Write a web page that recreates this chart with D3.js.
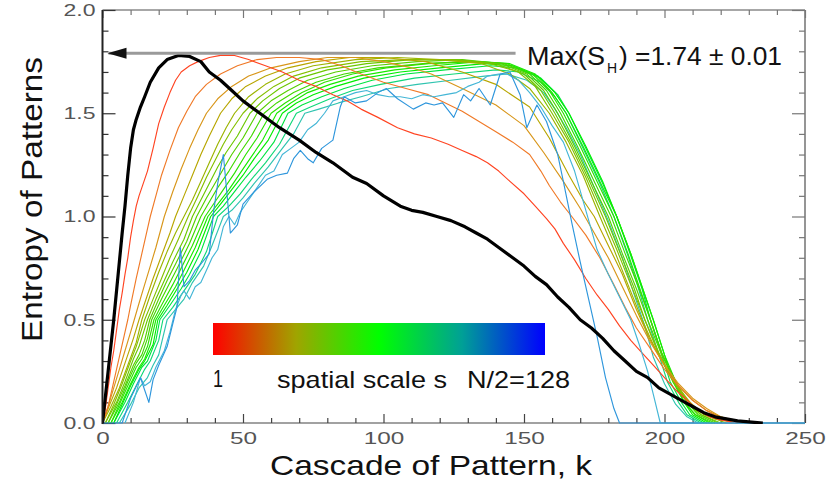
<!DOCTYPE html>
<html><head><meta charset="utf-8">
<script src="https://cdn.jsdelivr.net/npm/d3@7"></script>
<style>
body{margin:0;background:#fff}
svg{display:block}
text{font-family:"Liberation Sans",Arial,Helvetica,sans-serif}
</style>
</head><body>
<svg id="chart" width="830" height="486"></svg>
<script>
// ---------- tick values / labels ----------
const xMajorTicks = [0, 50, 100, 150, 200, 250];
const xMinorTicks = [10,20,30,40,60,70,80,90,110,120,130,140,160,170,180,190,210,220,230,240];
const yMajorTicks = [0, 0.5, 1.0, 1.5, 2.0];
const yMinorTicks = [0.1,0.2,0.3,0.4,0.6,0.7,0.8,0.9,1.1,1.2,1.3,1.4,1.6,1.7,1.8,1.9];
const xTitle = "Cascade of Pattern, k";
const yTitle = "Entropy of Patterns";
const maxValue = 1.79; // level of the grey arrow
const maxText = ") =1.74 \u00b1 0.01";
const scaleLabels = ["1", "spatial scale s", "N/2=128"];

// ---------- series: [k, S] ----------
const sBlack = [[0,0],[2,0.25],[4,0.5],[6,0.78],[7,0.92],[8,1.05],[9,1.2],[10,1.33],[11,1.42],[12,1.47],[13.5,1.53],[15,1.58],[17,1.65],[20,1.72],[23,1.76],[27,1.78],[31,1.775],[35,1.75],[38,1.70],[42,1.66],[46,1.61],[50,1.56],[56,1.50],[63,1.43],[70,1.37],[76,1.31],[82,1.26],[89,1.19],[94,1.16],[100,1.10],[106,1.05],[110,1.03],[114,1.02],[119,1.00],[124,0.98],[129,0.95],[133,0.92],[137,0.89],[141,0.85],[146,0.80],[150,0.76],[154,0.71],[158,0.67],[162,0.61],[166,0.56],[170,0.50],[174,0.46],[178,0.41],[182,0.35],[186,0.30],[190,0.25],[194,0.22],[198,0.17],[202,0.14],[206,0.11],[210,0.08],[214,0.05],[218,0.03],[222,0.02],[226,0.01],[232,0.003],[235,0]];
const s1 = [[0,0],[1,0.07],[2,0.17],[3,0.27],[4,0.35],[5,0.45],[6,0.55],[7,0.63],[8,0.72],[9,0.8],[10,0.9],[11,0.98],[12,1.05],[13,1.1],[14,1.14],[16,1.22],[18,1.33],[20,1.45],[22,1.53],[24,1.6],[26,1.66],[28,1.7],[31,1.73],[34,1.75],[38,1.77],[42,1.78],[47,1.78],[52,1.76],[58,1.73],[64,1.70],[70,1.66],[76,1.63],[82,1.59],[87,1.56],[92,1.52],[98,1.48],[105,1.43],[111,1.40],[117,1.38],[123,1.35],[128,1.32],[133,1.29],[137,1.26],[141,1.22],[145,1.17],[150,1.11],[154,1.05],[158,0.99],[161,0.94],[164,0.87],[168,0.79],[172,0.70],[176,0.62],[180,0.55],[184,0.47],[188,0.40],[192,0.34],[196,0.28],[200,0.22],[204,0.16],[208,0.11],[212,0.06],[216,0.03],[220,0.015],[226,0]];
const s2 = [[0,0],[2,0.08],[4,0.2],[6,0.32],[8,0.44],[9,0.5],[10,0.57],[12,0.7],[14,0.82],[16,0.94],[17,1.0],[19,1.1],[21,1.2],[24,1.32],[27,1.43],[30,1.51],[33,1.58],[37,1.64],[42,1.69],[48,1.73],[55,1.76],[62,1.77],[70,1.77],[78,1.76],[85,1.73],[92,1.69],[100,1.65],[108,1.62],[116,1.59],[122,1.55],[128,1.51],[134,1.46],[140,1.41],[146,1.36],[152,1.30],[156,1.22],[159,1.15],[163,1.07],[167,1.0],[172,0.91],[177,0.80],[182,0.67],[186,0.56],[190,0.46],[195,0.36],[200,0.26],[205,0.18],[210,0.11],[215,0.06],[219,0.03],[224,0]];
const s3 = [[0,0],[2,0.08],[4,0.17],[6,0.26],[8,0.35],[10,0.44],[11.3,0.5],[13,0.58],[15,0.67],[17,0.76],[19,0.85],[22,1.0],[25,1.12],[28,1.23],[31,1.33],[34,1.42],[37,1.5],[41,1.57],[46,1.63],[52,1.68],[60,1.72],[70,1.75],[80,1.77],[90,1.77],[100,1.75],[110,1.72],[117,1.69],[128,1.62],[140,1.54],[150,1.44],[157,1.31],[164,1.17],[170,1.04],[175,0.92],[180,0.80],[185,0.66],[190,0.52],[195,0.39],[200,0.28],[205,0.19],[210,0.12],[215,0.07],[220,0.03],[228,0]];
const s4 = [[0,0],[2,0.07],[5,0.17],[8,0.29],[11,0.41],[13,0.5],[15,0.58],[18,0.7],[21,0.81],[24,0.92],[26,1.0],[29,1.1],[32,1.2],[35,1.3],[38,1.39],[42,1.5],[46,1.57],[51,1.63],[58,1.68],[66,1.72],[76,1.75],[88,1.77],[100,1.77],[115,1.75],[128,1.70],[140,1.64],[152,1.53],[159,1.38],[166,1.20],[171,1.08],[175,1.0],[180,0.86],[185,0.72],[190,0.55],[195,0.40],[200,0.28],[205,0.18],[210,0.11],[215,0.06],[220,0.03],[228,0]];
const s5 = [[0,0],[3,0.08],[6,0.17],[9,0.28],[12,0.39],[14,0.5],[17,0.62],[20,0.73],[23,0.83],[26,0.92],[29,1.0],[32,1.08],[35,1.17],[38,1.26],[41,1.35],[44,1.43],[47,1.5],[52,1.58],[58,1.64],[65,1.69],[75,1.73],[90,1.76],[105,1.77],[120,1.76],[135,1.74],[145,1.69],[152,1.62],[159,1.50],[165,1.36],[171,1.20],[177,1.0],[182,0.84],[187,0.67],[192,0.50],[197,0.35],[202,0.23],[207,0.13],[212,0.06],[218,0.02],[226,0]];
const s6 = [[1,0],[4,0.09],[7,0.19],[10,0.3],[12,0.37],[15,0.5],[18,0.6],[21,0.7],[24,0.8],[27,0.89],[30.5,1.0],[34,1.1],[37,1.19],[40,1.27],[43,1.35],[46,1.42],[50,1.5],[55,1.57],[61,1.63],[68,1.68],[78,1.72],[92,1.75],[108,1.76],[124,1.76],[138,1.74],[148,1.70],[154,1.63],[160,1.5],[166,1.36],[172,1.19],[178,1.0],[183,0.84],[188,0.67],[193,0.5],[198,0.34],[203,0.21],[209,0.1],[214,0.04],[222,0]];
const s7 = [[1,0],[5,0.1],[8,0.2],[11,0.31],[13,0.37],[16,0.5],[19,0.6],[22,0.69],[25,0.78],[29,0.89],[32,1.0],[35,1.08],[38,1.16],[41,1.24],[44,1.31],[48,1.39],[52.5,1.5],[57,1.56],[63,1.62],[70,1.67],[80,1.71],[94,1.74],[110,1.76],[126,1.76],[140,1.74],[150,1.69],[156,1.61],[161,1.5],[167,1.35],[173,1.18],[179,1.0],[184,0.83],[189,0.66],[193,0.5],[198,0.33],[203,0.2],[208,0.1],[213,0.04],[220,0]];
const s8 = [[2,0],[5,0.09],[8,0.18],[11,0.28],[13,0.33],[15,0.4],[16.8,0.5],[20,0.6],[23,0.69],[26,0.77],[30,0.88],[33.5,1.0],[37,1.09],[40,1.16],[43,1.23],[46,1.3],[50,1.38],[55,1.5],[60,1.56],[66,1.61],[73,1.66],[83,1.7],[96,1.73],[112,1.75],[128,1.76],[142,1.74],[151,1.69],[157,1.61],[162,1.5],[168,1.34],[174,1.17],[180,1.0],[185,0.82],[190,0.65],[194,0.5],[199,0.33],[204,0.2],[208,0.1],[213,0.04],[219,0]];
const s9 = [[2,0],[6,0.1],[9,0.2],[12,0.29],[14,0.33],[16,0.41],[17.5,0.5],[21,0.6],[24,0.68],[27,0.76],[31,0.87],[35,1.0],[38,1.07],[41,1.14],[45,1.22],[49,1.31],[53,1.39],[57.5,1.5],[62,1.55],[68,1.6],[76,1.65],[86,1.69],[98,1.72],[114,1.74],[130,1.75],[143,1.74],[152,1.69],[158,1.61],[163,1.5],[169,1.34],[175,1.17],[181,1.0],[186,0.82],[191,0.65],[195,0.5],[199,0.34],[204,0.2],[208,0.1],[212,0.04],[218,0]];
const s10 = [[3,0],[6,0.09],[9,0.18],[12,0.27],[14,0.31],[16,0.37],[18.3,0.5],[21,0.57],[25,0.67],[28,0.75],[32,0.86],[36.5,1.0],[40,1.07],[43,1.13],[47,1.21],[51,1.3],[55,1.38],[60,1.5],[65,1.55],[71,1.6],[79,1.65],[89,1.69],[101,1.72],[116,1.74],[132,1.75],[144,1.74],[153,1.69],[159,1.61],[164,1.5],[170,1.34],[176,1.17],[182,1.0],[187,0.82],[191,0.66],[195,0.5],[199,0.34],[203,0.21],[207,0.1],[211,0.04],[217,0]];
const s11 = [[3,0],[7,0.1],[10,0.19],[13,0.27],[15,0.31],[17,0.38],[19,0.5],[22,0.57],[26,0.66],[29,0.74],[33,0.85],[37.5,1.0],[41,1.06],[45,1.13],[49,1.21],[53,1.29],[57,1.37],[62,1.5],[67,1.55],[73,1.6],[81,1.64],[91,1.68],[104,1.71],[118,1.73],[134,1.75],[145,1.74],[154,1.69],[160,1.6],[165,1.5],[171,1.34],[177,1.17],[183,1.0],[188,0.82],[192,0.66],[196,0.5],[200,0.33],[204,0.2],[207,0.1],[211,0.04],[216,0]];
const s12 = [[4,0],[7,0.09],[10,0.18],[13,0.26],[15,0.3],[18,0.38],[19.7,0.5],[23,0.57],[27,0.66],[30,0.73],[34,0.84],[38.5,1.0],[42,1.06],[46,1.13],[50,1.2],[54,1.28],[59,1.37],[64,1.5],[69,1.55],[75,1.59],[83,1.63],[93,1.67],[106,1.7],[120,1.72],[136,1.74],[146,1.73],[155,1.68],[161,1.6],[166,1.5],[172,1.34],[178,1.17],[183,1.0],[188,0.82],[192,0.66],[196,0.5],[200,0.33],[203,0.2],[207,0.1],[210,0.04],[215,0]];
const s13 = [[4,0],[8,0.1],[11,0.19],[14,0.27],[16,0.3],[19,0.4],[20.4,0.5],[24,0.57],[28,0.65],[31,0.72],[35,0.83],[39.5,1.0],[43,1.05],[47,1.12],[51,1.19],[56,1.27],[61,1.36],[66,1.5],[71,1.54],[78,1.58],[86,1.62],[96,1.66],[108,1.69],[122,1.71],[138,1.73],[147,1.72],[156,1.67],[162,1.59],[166,1.5],[172,1.33],[178,1.16],[183,1.0],[188,0.81],[192,0.65],[195,0.5],[199,0.33],[202,0.2],[206,0.1],[209,0.04],[214,0]];
const s14 = [[5,0],[9,0.1],[12,0.18],[15,0.26],[17,0.3],[20,0.4],[21.5,0.5],[25,0.56],[29,0.64],[33,0.72],[37,0.83],[41,1.0],[45,1.05],[49,1.11],[53,1.18],[58,1.26],[63,1.35],[69,1.5],[74,1.53],[81,1.57],[89,1.61],[99,1.64],[111,1.67],[125,1.69],[140,1.71],[148,1.7],[156,1.65],[161,1.58],[165,1.5],[171,1.33],[177,1.16],[182,1.0],[187,0.81],[191,0.64],[194,0.5],[198,0.33],[201,0.2],[205,0.1],[208,0.04],[213,0]];
const s15 = [[6,0],[10,0.09],[13,0.17],[16,0.22],[18,0.28],[20,0.33],[23,0.5],[26,0.55],[29,0.6],[32,0.68],[36,0.76],[39,0.86],[43,1.0],[46,1.03],[50,1.09],[54,1.16],[59,1.24],[64,1.33],[68,1.4],[72,1.5],[77,1.52],[84,1.55],[92,1.58],[102,1.62],[112,1.64],[124,1.66],[136,1.68],[144,1.69],[151,1.66],[157,1.6],[161,1.52],[165,1.43],[170,1.3],[175,1.14],[180,0.98],[185,0.8],[189,0.63],[193,0.47],[196,0.32],[200,0.19],[204,0.09],[208,0.03],[212,0]];
const s16 = [[8,0],[11,0.1],[13.5,0.22],[15,0.18],[17,0.2],[19,0.27],[22,0.35],[24,0.44],[26,0.55],[28,0.62],[29,0.64],[31,0.6],[33,0.66],[35,0.68],[37,0.74],[39,0.8],[41,0.84],[43,0.95],[45,1.0],[47,0.96],[49,1.02],[52,1.08],[55,1.14],[58,1.2],[61,1.22],[64,1.3],[67,1.33],[70,1.36],[73,1.42],[76,1.45],[79,1.5],[82,1.56],[86,1.58],[90,1.6],[94,1.61],[98,1.59],[102,1.58],[106,1.58],[110,1.57],[114,1.59],[118,1.58],[122,1.59],[126,1.6],[130,1.63],[134,1.65],[137,1.68],[141,1.69],[144,1.69],[148,1.66],[152,1.6],[156,1.53],[160,1.44],[164,1.36],[168,1.22],[172,1.03],[176,0.84],[180,0.72],[184,0.61],[188,0.5],[191,0.38],[194,0.25],[196,0.14],[198.5,0],[250,0]];
const s17 = [[0,0],[7,0],[10,0.12],[13.5,0.22],[15,0.16],[16.5,0.1],[18,0.21],[20,0.28],[23,0.37],[25,0.48],[26.5,0.56],[27.7,0.85],[29,0.66],[31,0.69],[33,0.74],[35,0.77],[38,0.82],[39.5,1.02],[41,1.16],[43,1.3],[44.5,1.08],[45.5,0.92],[48,0.96],[50,1.06],[54,1.12],[58.6,1.18],[62,1.2],[65.8,1.21],[68,1.28],[70.4,1.32],[73,1.28],[75,1.26],[78,1.33],[82,1.37],[84.6,1.53],[86,1.58],[90,1.55],[94,1.56],[98,1.6],[101,1.62],[105,1.57],[110.6,1.52],[115,1.55],[118,1.54],[121,1.55],[125,1.48],[128.5,1.59],[131,1.56],[134,1.62],[138,1.54],[141.5,1.69],[145,1.70],[148.6,1.59],[151,1.43],[154.6,1.54],[158,1.46],[162,1.30],[164,1.17],[167,0.97],[170,0.78],[173,0.6],[176,0.42],[179,0.22],[182,0.07],[184,0],[250,0]];

// drawing order (back to front) and colours
const seriesData   = [s15, s14, s13, s12, s11, s10, s9, s8, s7, s6, s5, s4, s3, s2, s1, s16, s17];
const seriesColors = ["#30c4b0","#10d878","#00e440","#00ee00","#18ea00","#2ce200","#40d800","#56d000","#6cc800","#84c000","#9cb400","#b8a600","#d8961a","#f07a28","#ff4422","#44b6d6","#2e96dc"];
const gradientStops = [[0,"#ff0000"],[0.25,"#a0a400"],[0.5,"#00ff00"],[0.75,"#00a096"],[1,"#0000ff"]];

// ---------- chart ----------
const svg = d3.select("#chart");
const x = d3.scaleLinear().domain([0,250]).range([102.5,805]);
const y = d3.scaleLinear().domain([0,2]).range([423,10]);

svg.append("defs").append("clipPath").attr("id","plotclip")
  .append("rect").attr("x",x(0)).attr("y",y(2)-2).attr("width",x(250)-x(0)).attr("height",y(0)-y(2)+3);

const lg = svg.append("defs").append("linearGradient").attr("id","cbar")
  .attr("x1","0%").attr("x2","100%").attr("y1","0%").attr("y2","0%");
gradientStops.forEach(d => lg.append("stop").attr("offset",d[0]).attr("stop-color",d[1]));

// frame
svg.append("line").attr("x1",x(0)).attr("x2",x(250)).attr("y1",y(2)).attr("y2",y(2)).attr("stroke","#8a8a8a").attr("stroke-width",1.5);
svg.append("line").attr("x1",x(250)).attr("x2",x(250)).attr("y1",y(2)).attr("y2",y(0)).attr("stroke","#8a8a8a").attr("stroke-width",1.8);
svg.append("line").attr("x1",x(0)).attr("x2",x(250)).attr("y1",y(0)).attr("y2",y(0)).attr("stroke","#444").attr("stroke-width",1.2);

function styleAxis(g, color){
  g.select(".domain").remove();
  g.selectAll(".tick line").attr("stroke",color).attr("stroke-width",1.2);
}
// left
const gl = svg.append("g").attr("transform",`translate(${x(0)},0)`)
  .call(d3.axisLeft(y).tickValues(yMajorTicks).tickSize(-13).tickPadding(7).tickFormat(d3.format(".1f")));
styleAxis(gl,"#333");
gl.selectAll("text").attr("font-size",17).attr("fill","#555").attr("textLength",32).attr("lengthAdjust","spacingAndGlyphs");
const glm = svg.append("g").attr("transform",`translate(${x(0)},0)`)
  .call(d3.axisLeft(y).tickValues(yMinorTicks).tickSize(-6).tickFormat(""));
styleAxis(glm,"#333");
// right
const gr = svg.append("g").attr("transform",`translate(${x(250)},0)`)
  .call(d3.axisRight(y).tickValues(yMajorTicks).tickSize(-13).tickFormat(""));
styleAxis(gr,"#777");
const grm = svg.append("g").attr("transform",`translate(${x(250)},0)`)
  .call(d3.axisRight(y).tickValues(yMinorTicks).tickSize(-6).tickFormat(""));
styleAxis(grm,"#777");
// bottom
const gb = svg.append("g").attr("transform",`translate(0,${y(0)})`)
  .call(d3.axisBottom(x).tickValues(xMajorTicks).tickSize(-9).tickPadding(9).tickFormat(d3.format("d")));
styleAxis(gb,"#444");
gb.selectAll("text").attr("font-size",17).attr("fill","#555")
  .attr("textLength",d => 13.5*String(d).length).attr("lengthAdjust","spacingAndGlyphs");
const gbm = svg.append("g").attr("transform",`translate(0,${y(0)})`)
  .call(d3.axisBottom(x).tickValues(xMinorTicks).tickSize(-5).tickFormat(""));
styleAxis(gbm,"#444");
// top
const gt = svg.append("g").attr("transform",`translate(0,${y(2)})`)
  .call(d3.axisTop(x).tickValues(xMajorTicks).tickSize(-8).tickFormat(""));
styleAxis(gt,"#777");
const gtm = svg.append("g").attr("transform",`translate(0,${y(2)})`)
  .call(d3.axisTop(x).tickValues(xMinorTicks).tickSize(-5).tickFormat(""));
styleAxis(gtm,"#777");

// curves
const line = d3.line().x(d => x(d[0])).y(d => y(d[1]));
const cg = svg.append("g").attr("clip-path","url(#plotclip)");
seriesData.forEach((s,i) => {
  cg.append("path").datum(s).attr("d",line).attr("fill","none")
    .attr("stroke",seriesColors[i]).attr("stroke-width",1.15).attr("stroke-linejoin","round");
});
cg.append("path").datum(sBlack).attr("d",line).attr("fill","none")
  .attr("stroke","#000").attr("stroke-width",3.2).attr("stroke-linejoin","round");

// left axis line on top
svg.append("line").attr("x1",x(0)).attr("x2",x(0)).attr("y1",y(2)).attr("y2",y(0)+1).attr("stroke","#222").attr("stroke-width",2);

// grey max arrow
svg.append("line").attr("x1",x(0)+6).attr("x2",x(147)).attr("y1",y(maxValue)).attr("y2",y(maxValue))
  .attr("stroke","#9a9a9a").attr("stroke-width",3);
svg.append("path")
  .attr("d",`M${x(0)+5},${y(maxValue)} L${x(0)+24},${y(maxValue)-5.5} L${x(0)+24},${y(maxValue)+5.5} Z`)
  .attr("fill","#111");

// max label
svg.append("text").attr("x",527).attr("y",65).attr("font-size",26).attr("fill","#111")
  .attr("textLength",78).attr("lengthAdjust","spacingAndGlyphs").text("Max(S");
svg.append("text").attr("x",607).attr("y",73).attr("font-size",14).attr("fill","#111").text("H");
svg.append("text").attr("x",619).attr("y",65).attr("font-size",26).attr("fill","#111")
  .attr("textLength",163).attr("lengthAdjust","spacingAndGlyphs").text(maxText);

// colour bar
svg.append("rect").attr("x",213).attr("y",323).attr("width",332).attr("height",32).attr("fill","url(#cbar)");
svg.append("text").attr("x",213).attr("y",387).attr("font-size",24).attr("fill","#111")
  .attr("textLength",10).attr("lengthAdjust","spacingAndGlyphs").text(scaleLabels[0]);
svg.append("text").attr("x",277).attr("y",388).attr("font-size",24).attr("fill","#111")
  .attr("textLength",170).attr("lengthAdjust","spacingAndGlyphs").text(scaleLabels[1]);
svg.append("text").attr("x",467).attr("y",388).attr("font-size",24).attr("fill","#111")
  .attr("textLength",103).attr("lengthAdjust","spacingAndGlyphs").text(scaleLabels[2]);

// axis titles
svg.append("text").attr("x",270).attr("y",475).attr("font-size",28).attr("fill","#111")
  .attr("textLength",322).attr("lengthAdjust","spacingAndGlyphs").text(xTitle);
svg.append("text").attr("transform","translate(42,342) rotate(-90)").attr("font-size",29).attr("fill","#111")
  .attr("textLength",285).attr("lengthAdjust","spacingAndGlyphs").text(yTitle);
</script>
</body></html>
